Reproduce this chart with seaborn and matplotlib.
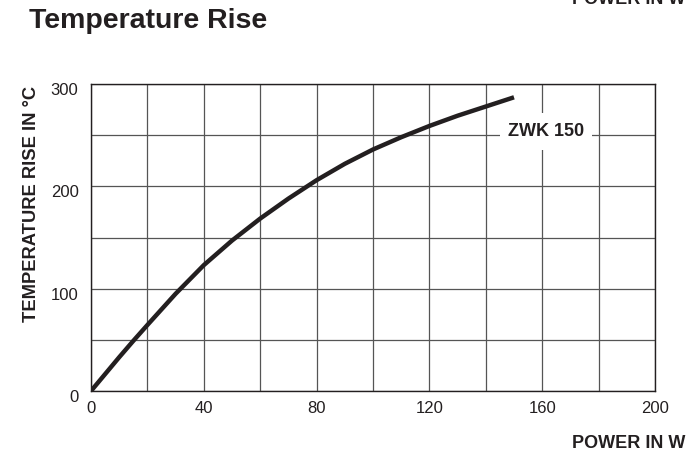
import matplotlib
matplotlib.use("Agg")
import matplotlib.pyplot as plt
import matplotlib.transforms as mtransforms
from matplotlib.patches import Rectangle
import seaborn as sns
import pandas as pd

# -----------------------------
# Data
# -----------------------------
power_w = [0, 5, 10, 15, 20, 30, 40, 50, 60, 70, 80, 90, 100, 110, 120, 130, 140, 150]
temp_rise = [0, 16.5, 33, 49, 64.5, 95, 123, 147, 168.5, 188, 206, 222, 236, 248, 259, 269, 278, 287]
x_ticks = [0, 40, 80, 120, 160, 200]
y_ticks = [0, 100, 200, 300]
series_label = "ZWK 150"

df = pd.DataFrame({"Power": power_w, "Temp": temp_rise})

# -----------------------------
# Plot
# -----------------------------
sns.set_style("white")
plt.rcParams['font.family'] = ['Liberation Sans', 'DejaVu Sans']
ink = "#231f20"

fig = plt.figure(figsize=(6.99, 4.5), dpi=100)
ax = fig.add_axes([91 / 699, 1 - 391 / 450, (655 - 91) / 699, (391 - 84) / 450])

sns.lineplot(data=df, x="Power", y="Temp", ax=ax, color=ink, linewidth=3.2,
             solid_capstyle="butt", solid_joinstyle="round", zorder=3)

ax.set_xlim(0, 200)
ax.set_ylim(0, 300)
ax.set_xticks(range(0, 201, 20))
ax.set_yticks(range(0, 301, 50))
ax.set_xticklabels([str(v) if v in x_ticks else "" for v in range(0, 201, 20)])
ax.set_yticklabels([str(v) if v in y_ticks else "" for v in range(0, 301, 50)])
ax.grid(True, color="#555555", linewidth=0.9)
ax.tick_params(length=0, labelsize=12, colors=ink)
ax.tick_params(axis="x", pad=7)
ax.tick_params(axis="y", pad=9)
# y labels sit a little below their grid lines in the original
shift = mtransforms.ScaledTranslation(0, -5 / 100, fig.dpi_scale_trans)
for lbl in ax.get_yticklabels():
    lbl.set_transform(lbl.get_transform() + shift)
for s in ax.spines.values():
    s.set_color(ink)
    s.set_linewidth(1.0)
ax.set_xlabel("")
ax.set_ylabel("")

# white patch behind the series label, breaking the grid
ax.add_patch(Rectangle((0.725, 0.785), 0.163, 0.12, transform=ax.transAxes,
                       facecolor="white", edgecolor="none", zorder=2.5))
ax.text(161.5, 254, series_label, ha="center", va="center", fontsize=13,
        fontweight="bold", color=ink, zorder=4)

# titles and axis labels
fig.text(29 / 699, 1 - 21 / 450, "Temperature Rise", ha="left", va="center",
         fontsize=20.5, fontweight="heavy", color=ink)
fig.text(31 / 699, 1 - 86 / 450, "TEMPERATURE RISE IN °C", rotation=90,
         ha="center", va="top", fontsize=13.2, fontweight="bold", color=ink)
fig.text(685 / 699, 1 - 443 / 450, "POWER IN W", ha="right", va="center",
         fontsize=13, fontweight="bold", color=ink)
fig.text(685 / 699, 1 - 4 / 450, "POWER IN W", ha="right", va="baseline",
         fontsize=13, fontweight="bold", color=ink)

fig.savefig("out.png", dpi=100, facecolor="white")
